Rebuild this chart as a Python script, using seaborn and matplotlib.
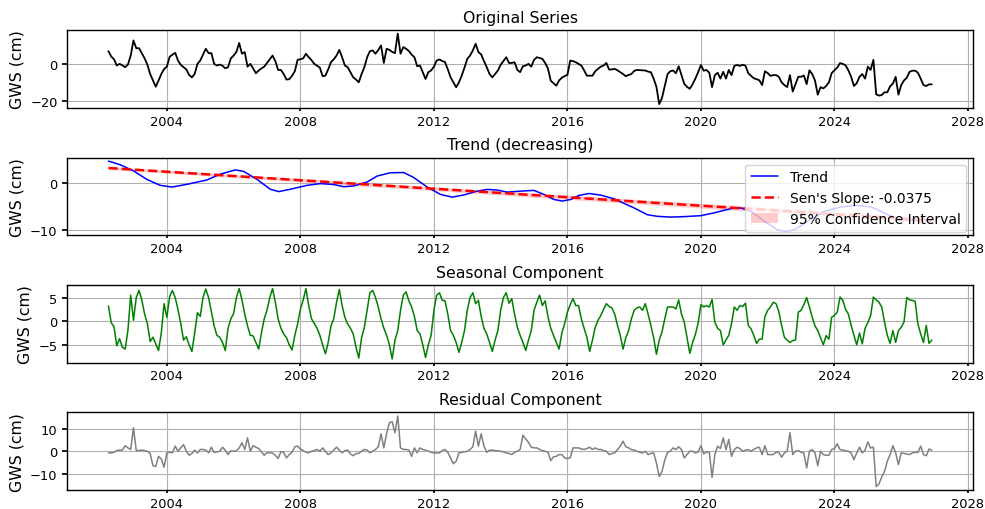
import numpy as np
import pandas as pd
import matplotlib
matplotlib.use("Agg")
import matplotlib.pyplot as plt
import matplotlib.ticker as mticker
import seaborn as sns

# Monthly groundwater storage (GWS) record and its decomposition
first_month = "2002-04-01"
last_month = "2026-12-01"

original_gws = [
    6.9, 4.0, 2.5, -0.9, 0.0, -0.8, -1.8, -0.4, 4.5,                      # 2002 (Apr-Dec)
    12.7, 8.5, 8.5, 5.8, 3.0, -0.5, -5.5, -9.0, -12.4, -9.1, -5.5, -2.8,    # 2003
    -1.5, 3.8, 5.0, 6.0, 1.8, -0.5, -1.8, -3.0, -6.0, -7.3, -5.5, 0.0,      # 2004
    1.8, 5.0, 8.2, 5.8, 5.8, 0.0, -0.9, -0.4, -1.0, -2.4, -1.8, 3.0,        # 2005
    4.5, 6.5, 11.3, 5.5, 6.4, -1.5, 0.0, -2.4, -5.1, -3.6, -2.5, -1.5,      # 2006
    0.5, 2.5, 4.5, 1.5, -3.3, -3.3, -5.5, -8.5, -8.3, -6.5, -4.0, 2.2,      # 2007
    2.5, 3.0, 5.5, 3.6, 2.0, 0.0, -1.0, -2.0, -6.7, -6.4, -3.0, 0.9,        # 2008
    2.5, 4.5, 7.6, 3.6, -0.9, -1.8, -4.5, -7.3, -8.5, -10.0, -5.5, -1.8,    # 2009
    3.6, 6.9, 7.3, 5.5, 7.5, 10.0, 0.5, 8.2, 7.6, 6.5, 5.8, 16.4,           # 2010
    5.5, 9.1, 8.2, 7.0, 5.0, 3.6, -1.3, -0.9, -4.5, -8.2, -4.5, -3.6,       # 2011
    -1.5, 1.8, 2.4, 1.5, 1.0, -3.0, -7.3, -10.0, -12.7, -10.0, -6.4, -2.0,  # 2012
    2.7, 4.5, 7.3, 10.9, 6.4, 5.1, 1.5, -1.8, -5.5, -7.3, -5.5, -3.6,       # 2013
    -0.5, 1.5, 3.6, 0.5, 0.5, 0.9, -3.3, -4.5, -1.3, -0.9, 0.0, -1.5,       # 2014
    2.2, 3.6, 3.2, 2.7, 0.5, -2.5, -9.1, -10.5, -11.8, -9.0, -7.5, -6.6,    # 2015
    -6.0, 1.8, 1.5, 0.9, 0.0, -0.9, -3.5, -6.4, -6.4, -6.4, -4.0, -2.7,     # 2016
    -1.5, -0.9, 0.5, -3.1, -3.0, -2.7, -3.5, -4.5, -5.5, -6.7, -6.0, -5.5,  # 2017
    -3.8, -3.3, -3.4, -3.5, -3.6, -4.2, -4.5, -8.0, -12.5, -21.8, -18.5, -12.0,  # 2018
    -5.5, -4.0, -3.6, -5.1, -1.3, -6.0, -10.8, -12.5, -13.5, -11.0, -8.0, -4.5,  # 2019
    -0.6, -3.7, -3.3, -4.8, -12.6, -6.1, -4.8, -8.0, -4.3, -8.0, -3.3, -6.1,     # 2020
    -1.1, -0.6, -1.1, -0.5, -1.0, -5.0, -6.5, -7.8, -8.3, -8.9, -11.5, -4.0,     # 2021
    -5.0, -6.5, -6.1, -6.1, -7.0, -10.0, -11.5, -12.6, -6.1, -15.0, -11.0, -7.0, # 2022
    -7.0, -6.3, -11.0, -3.5, -5.5, -9.0, -16.7, -12.6, -13.3, -12.0, -10.0, -5.0,  # 2023
    -3.5, -2.0, 0.4, 0.0, -0.8, -3.5, -7.0, -12.0, -10.5, -7.0, -5.5, -8.0,       # 2024
    -1.5, -3.3, 2.2, -16.5, -17.2, -16.9, -15.4, -15.4, -12.2, -10.7, -7.0, -16.7,  # 2025
    -11.5, -9.0, -7.5, -4.3, -3.7, -3.7, -4.8, -8.0, -11.5, -12.0, -11.1, -11.1,    # 2026
]

seasonal_gws = [
    3.2, -0.3, -1.2, -5.2, -3.7, -5.5, -5.9, -2.0, 5.5,                 # 2002 (Apr-Dec)
    0.2, 5.0, 6.5, 4.5, 1.5, -0.5, -4.3, -3.4, -4.8, -6.2, -2.5, 3.7,   # 2003
    0.8, 5.2, 6.5, 5.0, 2.5, -0.5, -4.0, -3.3, -5.0, -6.4, -2.5, 1.8,   # 2004
    1.0, 5.0, 6.8, 5.0, 2.0, -1.0, -3.0, -3.4, -4.5, -6.2, -1.5, 0.5,   # 2005
    1.6, 5.0, 6.9, 4.5, 1.5, -1.0, -3.0, -3.1, -4.5, -5.9, -2.5, 0.5,   # 2006
    2.3, 5.0, 6.9, 4.0, 0.5, -1.5, -2.7, -3.5, -5.0, -6.1, -3.0, -0.6,  # 2007
    2.5, 4.5, 6.9, 3.3, 0.5, -0.5, -1.5, -3.0, -5.0, -6.9, -4.5, -1.0,  # 2008
    0.5, 4.0, 6.7, 3.3, 0.8, -0.6, -1.5, -2.7, -5.5, -7.8, -3.5, -1.3,  # 2009
    2.3, 6.0, 6.5, 5.0, 3.0, 0.5, -1.5, -3.0, -5.0, -8.0, -4.0, -2.0,   # 2010
    2.3, 5.5, 6.2, 4.3, 3.0, 1.0, -2.0, -2.7, -5.0, -7.7, -5.0, -3.0,   # 2011
    2.3, 5.5, 6.0, 4.4, 4.3, 1.5, -2.0, -3.0, -4.5, -6.6, -4.5, -2.0,   # 2012
    2.3, 5.0, 6.0, 3.7, 4.4, 1.0, -1.5, -2.7, -4.5, -6.4, -4.0, -2.0,   # 2013
    2.3, 5.0, 6.0, 3.8, 4.75, 1.5, -1.3, -3.0, -4.5, -6.2, -4.0, -2.0,  # 2014
    2.3, 4.0, 5.5, 3.3, 4.3, 1.0, -1.5, -3.0, -4.5, -5.9, -2.5, -0.5,   # 2015
    1.9, 3.5, 4.75, 3.3, 3.3, 0.5, -1.5, -3.4, -6.4, -4.0, -1.3, 0.2,   # 2016
    1.2, 2.5, 3.7, 3.1, 2.8, 1.5, -0.9, -3.0, -5.9, -3.5, -2.0, 0.5,    # 2017
    2.3, 2.8, 3.0, 2.3, 3.7, 1.5, -0.9, -3.5, -7.0, -4.0, -2.3, 0.5,    # 2018
    3.0, 3.0, 3.0, 2.6, 4.5, 1.5, -0.2, -3.5, -6.8, -4.5, -2.8, -0.4,   # 2019
    3.5, 3.0, 3.3, 3.0, 4.6, -0.2, -1.5, -2.0, -5.0, -4.0, -3.0, -0.5,  # 2020
    3.0, 2.3, 3.3, 3.1, 3.8, -0.9, -1.6, -3.0, -4.7, -3.8, -3.8, 1.0,   # 2021
    2.3, 3.0, 4.0, 3.7, 2.0, -0.9, -3.4, -4.0, -4.5, -4.1, -4.0, 1.9,   # 2022
    2.3, 3.5, 5.0, 3.0, 0.85, -1.0, -2.0, -3.5, -5.0, -3.05, -3.8, 0.85,  # 2023
    1.2, 1.9, 5.1, 4.4, 2.5, 1.5, -0.9, -3.0, -5.0, -2.5, -4.8, -1.5,   # 2024
    -0.3, 1.2, 5.1, 4.5, 4.0, 3.0, -0.2, -3.0, -4.7, -2.0, -4.5, -2.0,  # 2025
    -1.3, -0.2, 5.0, 4.5, 4.4, 4.2, -0.6, -2.7, -4.5, -0.9, -4.7, -4.0, # 2026
]

residual_gws = [
    -0.8, -0.7, -0.5, 0.3, 0.5, 0.5, 2.5, 1.5, 0.8,                      # 2002 (Apr-Dec)
    10.5, 0.3, 0.3, 0.5, 0.3, 0.0, -1.0, -6.5, -6.8, -2.3, -3.5, -7.2,   # 2003
    -0.7, -0.5, -0.7, 2.3, 0.0, 1.5, 3.0, 0.0, -1.8, -1.0, 0.5, -0.8,    # 2004
    0.8, 0.8, 0.5, -0.7, 1.8, -0.5, -0.3, 0.0, 1.8, 0.5, -1.5, 0.2,      # 2005
    0.0, 0.2, 1.5, 3.8, 0.8, 6.0, 0.0, 2.5, 1.8, 1.2, -0.3, -1.8,        # 2006
    -0.7, -0.7, -0.8, -1.8, -3.3, -0.2, -0.5, -3.0, -1.5, -0.5, 2.0, 2.3,  # 2007
    1.0, 0.3, -0.5, -0.7, 0.0, 0.3, 0.8, 0.0, 1.5, 0.0, -1.5, -0.7,      # 2008
    0.5, 1.8, 0.5, -0.7, 0.3, 0.5, -1.2, -2.0, -1.0, -1.0, 0.0, 0.8,     # 2009
    0.5, -0.7, 0.0, 0.8, 2.0, 7.8, 1.5, 8.0, 12.8, 13.2, 8.3, 15.8,      # 2010
    1.5, 0.8, 0.8, 0.5, -2.3, 1.5, -0.7, 1.5, 0.8, 0.5, 0.0, -0.5,       # 2011
    -0.75, -0.75, -0.75, 0.3, 0.8, -0.5, -3.0, -5.6, -4.5, -0.75, -0.5, -0.3,  # 2012
    0.0, 0.75, 2.0, 9.0, 2.3, 7.8, 2.3, -0.5, 0.5, 0.5, 0.3, 0.2,        # 2013
    0.0, -0.3, -0.75, -1.0, -1.5, -0.5, 0.0, 0.75, 7.2, 5.5, 4.0, 1.8,   # 2014
    1.5, 1.5, 0.8, 0.3, 0.0, -0.5, -4.2, -2.5, -2.3, -1.5, -1.5, -3.0,   # 2015
    -3.3, -3.0, 1.5, 1.5, 1.5, 1.0, 0.8, 1.2, 1.8, 0.8, 1.5, 0.8,        # 2016
    0.8, 0.3, 0.0, -1.5, -1.0, -0.75, 0.8, 2.3, 4.5, 2.0, 1.5, 0.75,     # 2017
    0.5, 0.0, -0.5, -0.75, 0.0, -1.5, -1.0, -0.75, -5.3, -11.3, -9.0, -4.0,  # 2018
    -0.5, 0.0, 1.5, 0.75, 2.0, 0.75, -3.0, -1.5, 0.0, 0.0, -0.75, -0.3,  # 2019
    2.5, -1.2, -0.3, -0.5, -11.7, -1.5, 2.3, 1.2, 6.0, 0.75, 5.3, -2.3,  # 2020
    0.75, 1.8, 1.2, 0.0, 0.5, 0.75, 0.0, 0.8, 1.5, 1.8, -1.5, 2.5,       # 2021
    -1.5, -1.5, -1.5, -0.5, -0.5, -2.7, -0.75, 0.0, 8.3, -1.5, 0.0, 0.3, # 2022
    -0.5, -0.75, -7.5, 0.0, 0.75, -0.75, -6.5, 0.0, -1.5, -1.8, -1.8, 0.75,  # 2023
    1.2, 3.3, 0.75, 0.5, 0.3, 0.0, -0.75, -3.8, -0.75, 1.8, -0.75, 0.5,  # 2024
    4.2, 1.5, 1.8, -15.8, -14.7, -11.5, -9.0, -4.5, -1.5, 2.5, -0.75, -6.0,  # 2025
    -0.75, -1.0, -1.2, -1.5, -0.75, -0.5, -0.5, 2.3, -1.5, -2.0, 1.0, 0.5,   # 2026
]

# Smooth trend component, sampled at decimal years
trend_years = [
    2002.25, 2002.6, 2003.0, 2003.4, 2003.8, 2004.15, 2004.6, 2005.2, 2005.6,
    2006.05, 2006.3, 2006.7, 2007.1, 2007.35, 2007.7, 2008.2, 2008.6, 2009.0,
    2009.3, 2009.6, 2010.0, 2010.3, 2010.7, 2011.1, 2011.4, 2011.8, 2012.2,
    2012.55, 2012.9, 2013.3, 2013.6, 2013.9, 2014.2, 2014.6, 2015.0, 2015.3,
    2015.6, 2015.85, 2016.1, 2016.35, 2016.65, 2017.0, 2017.4, 2018.0, 2018.4,
    2018.7, 2019.1, 2019.5, 2020.0, 2020.4, 2020.9, 2021.2, 2021.5, 2021.9,
    2022.3, 2022.55, 2022.8, 2023.2, 2023.7, 2024.2, 2024.7, 2025.1, 2025.6,
    2026.0, 2026.4, 2026.92,
]
trend_gws = [
    4.57, 3.8, 2.5, 0.7, -0.57, -0.93, -0.36, 0.57, 1.8,
    2.7, 2.4, 0.7, -1.4, -1.9, -1.4, -0.57, -0.2, -0.4,
    -0.86, -0.7, 0.14, 1.4, 2.1, 2.14, 1.07, -0.93, -2.5,
    -3.07, -2.6, -1.8, -1.43, -1.57, -2.0, -1.8, -1.64, -2.5,
    -3.57, -3.9, -3.57, -2.7, -2.3, -2.64, -3.43, -5.36, -6.8,
    -7.14, -7.3, -7.2, -7.0, -6.4, -5.5, -5.36, -6.07, -8.2,
    -10.0, -10.36, -10.0, -8.2, -6.07, -5.14, -4.86, -5.14, -6.8,
    -7.86, -8.0, -7.86,
]

# Sen's slope (cm per month) with its 95% confidence bounds
sen_slope = -0.0375
sen_intercept = 3.1
ci_slopes = (-0.0385, -0.0365)
ci_intercepts = (2.8, 3.4)

panel_titles = ["Original Series", "Trend (decreasing)",
                "Seasonal Component", "Residual Component"]
panel_yticks = [[-20, 0], [-10, 0], [-5, 0, 5], [-10, 0, 10]]
y_label = "GWS (cm)"

# ---------------------------------------------------------------------------
sns.set_theme(style="ticks", rc={
    "axes.grid": True,
    "grid.color": "#b0b0b0",
    "grid.linewidth": 0.8,
    "axes.edgecolor": "black",
    "axes.linewidth": 1.0,
    "axes.labelcolor": "black",
    "text.color": "black",
    "xtick.color": "black",
    "ytick.color": "black",
    "xtick.labelsize": 9.4,
    "ytick.labelsize": 9.4,
    "axes.titlesize": 11.3,
    "axes.labelsize": 11.3,
    "legend.fontsize": 10.0,
    "xtick.major.size": 2.0,
    "xtick.major.pad": 3.0,
    "ytick.major.size": 3.5,
})
plt.rcParams["font.family"] = ["DejaVu Sans"]

months = pd.date_range(first_month, last_month, freq="MS")
t_year = np.asarray(months.year + (months.month - 1) / 12.0, dtype=float)
month_index = np.arange(len(months))

sen_line = sen_intercept + sen_slope * month_index
ci_low = ci_intercepts[0] + ci_slopes[0] * month_index
ci_high = ci_intercepts[1] + ci_slopes[1] * month_index

fig, axes = plt.subplots(4, 1, figsize=(9.85, 5.10), dpi=100)
fig.subplots_adjust(left=0.0683, right=0.9878, top=0.939, bottom=0.0373,
                    hspace=0.645)

ax0, ax1, ax2, ax3 = axes

sns.lineplot(x=t_year, y=np.asarray(original_gws), ax=ax0,
             color="black", linewidth=1.3)

sns.lineplot(x=np.asarray(trend_years), y=np.asarray(trend_gws), ax=ax1,
             color="blue", linewidth=1.1, label="Trend")
sns.lineplot(x=t_year, y=sen_line, ax=ax1, color="red", linestyle="--",
             linewidth=1.8, label=f"Sen's Slope: {sen_slope:.4f}")
ax1.fill_between(t_year, ci_low, ci_high, color="red", alpha=0.2,
                 linewidth=0, label="95% Confidence Interval")
ax1.legend(loc="upper right")

sns.lineplot(x=t_year, y=np.asarray(seasonal_gws), ax=ax2,
             color="green", linewidth=1.1)
sns.lineplot(x=t_year, y=np.asarray(residual_gws), ax=ax3,
             color="gray", linewidth=1.1)

for ax, title, yt in zip(axes, panel_titles, panel_yticks):
    ax.set_title(title)
    ax.set_ylabel(y_label)
    ax.set_xlabel("")
    ax.set_yticks(yt)
    ax.xaxis.set_major_locator(mticker.MultipleLocator(4))
    ax.xaxis.set_major_formatter(mticker.FormatStrFormatter("%d"))
    ax.grid(True)
    for side in ("top", "right", "bottom", "left"):
        ax.spines[side].set_visible(True)

fig.savefig("out.png", dpi=100)
